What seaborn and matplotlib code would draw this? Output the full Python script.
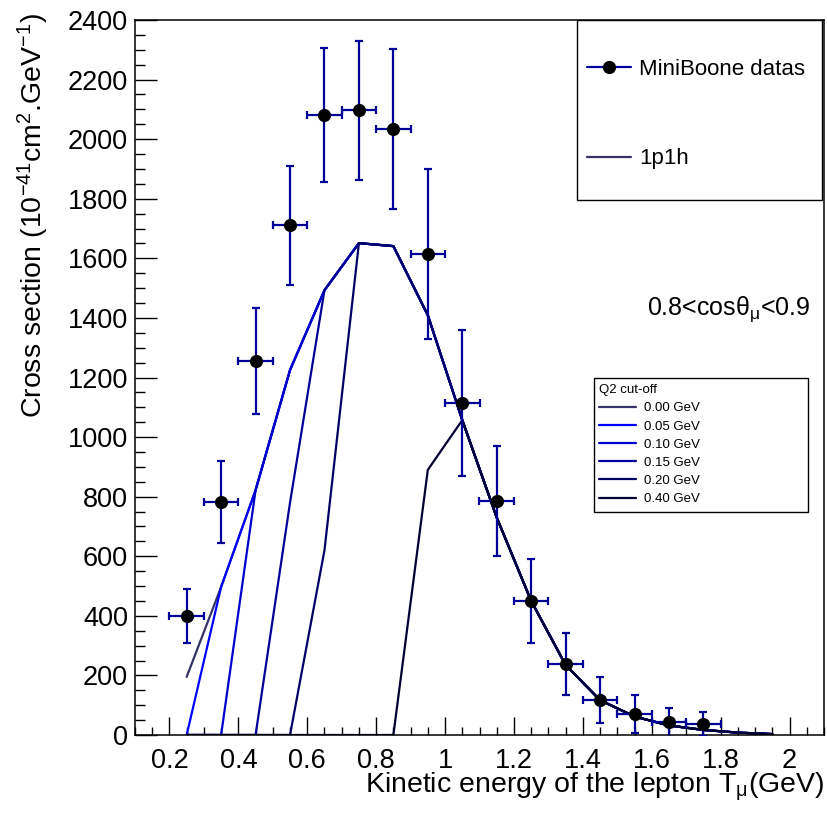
import matplotlib
matplotlib.use("Agg")
import matplotlib.pyplot as plt
import pandas as pd
import seaborn as sns
from matplotlib.lines import Line2D
from matplotlib.patches import Rectangle
from matplotlib.ticker import MultipleLocator, FuncFormatter

sns.set_style("ticks")
plt.rcParams['font.family'] = ['Liberation Sans', 'DejaVu Sans']
plt.rcParams['mathtext.fontset'] = 'custom'
plt.rcParams['mathtext.rm'] = 'Liberation Sans'
plt.rcParams['mathtext.it'] = 'Liberation Sans:italic'
plt.rcParams['mathtext.default'] = 'regular'
plt.rcParams['text.color'] = 'black'
plt.rcParams['axes.labelcolor'] = 'black'
plt.rcParams['xtick.color'] = 'black'
plt.rcParams['ytick.color'] = 'black'

# MiniBoone data points (bin centres, value, error)
t_data = [0.25, 0.35, 0.45, 0.55, 0.65, 0.75, 0.85, 0.95, 1.05, 1.15, 1.25, 1.35, 1.45, 1.55, 1.65, 1.75]
xs_data = [400, 782, 1255, 1711, 2080, 2097, 2034, 1614, 1114, 785, 450, 238, 117, 70, 42, 38]
xs_err = [90, 138, 177, 200, 225, 233, 270, 285, 245, 185, 140, 104, 77, 63, 50, 40]
t_binhalf = 0.05

# 1p1h model for each Q2 cut-off
t_model = [0.25, 0.35, 0.45, 0.55, 0.65, 0.75, 0.85, 0.95, 1.05,
           1.15, 1.25, 1.35, 1.45, 1.55, 1.65, 1.75, 1.85, 1.95]
cut_000 = [195, 497, 822, 1225, 1493, 1651, 1641, 1409, 1057, 730, 450, 235, 117, 62, 32, 17, 8, 3]
cut_005 = [0, 497, 822, 1225, 1493, 1651, 1641, 1409, 1057, 730, 450, 235, 117, 62, 32, 17, 8, 3]
cut_010 = [0, 0, 822, 1225, 1493, 1651, 1641, 1409, 1057, 730, 450, 235, 117, 62, 32, 17, 8, 3]
cut_015 = [0, 0, 0, 780, 1493, 1651, 1641, 1409, 1057, 730, 450, 235, 117, 62, 32, 17, 8, 3]
cut_020 = [0, 0, 0, 0, 620, 1651, 1641, 1409, 1057, 730, 450, 235, 117, 62, 32, 17, 8, 3]
cut_040 = [0, 0, 0, 0, 0, 0, 0, 890, 1057, 730, 450, 235, 117, 62, 32, 17, 8, 3]

cut_labels = ["0.00 GeV", "0.05 GeV", "0.10 GeV", "0.15 GeV", "0.20 GeV", "0.40 GeV"]
cut_colors = ["#333366", "#0000ff", "#0000cc", "#000099", "#000066", "#000033"]
data_color = "#000099"

curves = [cut_000, cut_005, cut_010, cut_015, cut_020, cut_040]
df = pd.concat([pd.DataFrame({"T": t_model, "xs": c, "cut": lab})
                for c, lab in zip(curves, cut_labels)], ignore_index=True)

fig = plt.figure(figsize=(8.27, 8.21), dpi=100)
ax = fig.add_axes([135 / 827, 1 - 735 / 821, 689 / 827, 715 / 821])

sns.lineplot(data=df, x="T", y="xs", hue="cut", hue_order=cut_labels,
             palette=dict(zip(cut_labels, cut_colors)), linewidth=1.6,
             estimator=None, sort=False, legend=False, ax=ax)

ax.errorbar(t_data, xs_data, xerr=t_binhalf, yerr=xs_err, fmt='none',
            ecolor=data_color, elinewidth=1.6, capsize=3, capthick=1.6, zorder=4)
sns.scatterplot(x=t_data, y=xs_data, color="black", s=90, edgecolor="black",
                linewidth=0, zorder=5, ax=ax)

ax.set_xlim(0.1, 2.1)
ax.set_ylim(0, 2400)
ax.xaxis.set_major_locator(MultipleLocator(0.2))
ax.xaxis.set_minor_locator(MultipleLocator(0.05))
ax.yaxis.set_major_locator(MultipleLocator(200))
ax.yaxis.set_minor_locator(MultipleLocator(50))
ax.xaxis.set_major_formatter(FuncFormatter(lambda v, p: "%g" % round(v, 2)))
ax.tick_params(axis="x", which="major", direction="in", length=13, width=1, pad=9, labelsize=19.5)
ax.tick_params(axis="x", which="minor", direction="in", length=6, width=1)
ax.tick_params(axis="y", which="major", direction="in", length=16, width=1, pad=5, labelsize=19.5)
ax.tick_params(axis="y", which="minor", direction="in", length=7.5, width=1)
for sp in ax.spines.values():
    sp.set_linewidth(1.1)
    sp.set_color("black")

ax.set_xlabel(r"Kinetic energy of the lepton T$_{\mathrm{μ}}$(GeV)", fontsize=20.5)
ax.xaxis.set_label_coords(1.0, -0.081)
ax.xaxis.label.set_ha("right")
ax.xaxis.label.set_va("baseline")
ax.set_ylabel(r"Cross section (10$^{-41}$cm$^{2}$.GeV$^{-1}$)", fontsize=20.5)
ax.yaxis.set_label_coords(-0.148, 1.01)
ax.yaxis.label.set_ha("right")
ax.yaxis.label.set_va("center")

ax.text(0.98, 0.587, r"0.8<cosθ$_{\mathrm{μ}}$<0.9", transform=ax.transAxes,
        ha="right", va="baseline", fontsize=18)

# main legend box
ax.add_patch(Rectangle((0.641, 0.748), 0.356, 0.252, transform=ax.transAxes,
                       facecolor="white", edgecolor="black", linewidth=1, zorder=6))
h1 = [Line2D([], [], color=data_color, lw=1.6, marker="o", markersize=8.5,
             markerfacecolor="black", markeredgecolor="black"),
      Line2D([], [], color=cut_colors[0], lw=1.6)]
leg1 = ax.legend(h1, ["MiniBoone datas", "1p1h"], loc="center left",
                 bbox_to_anchor=(0.656, 0.8685), frameon=False, fontsize=16,
                 borderpad=0, borderaxespad=0, labelspacing=3.1,
                 handlelength=2.0, handletextpad=0.36)
leg1.set_zorder(7)
ax.add_artist(leg1)

# Q2 cut-off legend box
ax.add_patch(Rectangle((0.666, 0.312), 0.311, 0.187, transform=ax.transAxes,
                       facecolor="white", edgecolor="black", linewidth=1, zorder=6))
h2 = [Line2D([], [], color=c, lw=1.6) for c in cut_colors]
leg2 = ax.legend(h2, cut_labels, loc="center left", bbox_to_anchor=(0.673, 0.406),
                 frameon=False, fontsize=9.5, title="Q2 cut-off", title_fontsize=9.5,
                 borderpad=0, borderaxespad=0, labelspacing=0.45,
                 handlelength=2.8, handletextpad=0.6, alignment="left")
leg2.set_zorder(7)

fig.savefig("out.png", dpi=100)
